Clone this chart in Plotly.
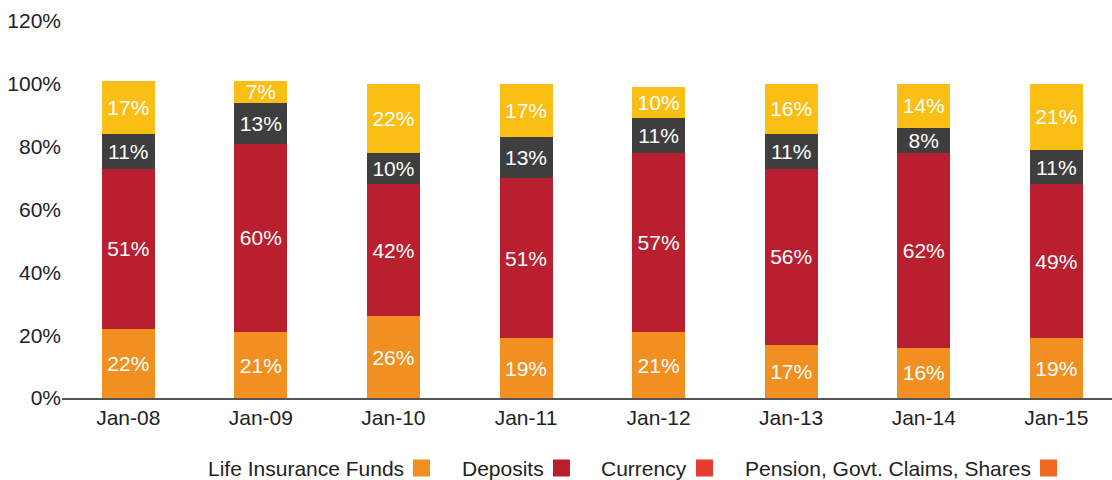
import plotly.graph_objects as go

categories = ["Jan-08", "Jan-09", "Jan-10", "Jan-11", "Jan-12", "Jan-13", "Jan-14", "Jan-15"]
life_insurance = [22, 21, 26, 19, 21, 17, 16, 19]
deposits = [51, 60, 42, 51, 57, 56, 62, 49]
currency = [11, 13, 10, 13, 11, 11, 8, 11]
pension = [17, 7, 22, 17, 10, 16, 14, 21]
y_ticks = [0, 20, 40, 60, 80, 100, 120]
y_tick_labels = ["0%", "20%", "40%", "60%", "80%", "100%", "120%"]

series = [
    ("Life Insurance Funds", life_insurance, "#F18F21"),
    ("Deposits", deposits, "#B91F2E"),
    ("Currency", currency, "#3E3E3E"),
    ("Pension, Govt. Claims, Shares", pension, "#FBBE14"),
]
legend_colors = ["#F18F21", "#B91F2E", "#E63B2F", "#EC6A20"]

FONT = "Liberation Sans, Arial, Helvetica, sans-serif"

fig = go.Figure()
for name, vals, col in series:
    fig.add_trace(go.Bar(
        x=categories, y=vals, name=name,
        marker=dict(color=col, line=dict(width=0)),
        width=0.4,
        text=[f"{v}%" for v in vals],
        textposition="inside", insidetextanchor="middle",
        constraintext="none",
        textfont=dict(color="white", size=21, family=FONT),
        showlegend=False,
    ))

W, H = 1112, 480
ml, mr, mt, mb = 62, 0, 21, 82
pw = W - ml - mr
ph = H - mt - mb

def px_x(px):
    return (px - ml) / pw

def px_y(py):
    return (H - mb - py) / ph

legend_items = [
    ("Life Insurance Funds", 406, 413),
    ("Deposits", 546, 553),
    ("Currency", 689, 696),
    ("Pension, Govt. Claims, Shares", 1033, 1040),
]
annotations = []
shapes = []
ly = 468
for (label, tx, sx), col in zip(legend_items, legend_colors):
    annotations.append(dict(
        x=px_x(tx), y=px_y(ly), xref="paper", yref="paper",
        text=label, showarrow=False, xanchor="right", yanchor="middle",
        font=dict(size=21, color="#222222", family=FONT),
    ))
    shapes.append(dict(
        type="rect", xref="paper", yref="paper",
        x0=px_x(sx), x1=px_x(sx + 17), y0=px_y(ly + 8.5), y1=px_y(ly - 8.5),
        fillcolor=col, line=dict(width=0),
    ))

fig.update_layout(
    barmode="stack",
    width=W, height=H,
    margin=dict(l=ml, r=mr, t=mt, b=mb),
    plot_bgcolor="white", paper_bgcolor="white",
    font=dict(family=FONT, size=21, color="#222222"),
    xaxis=dict(
        range=[-0.5, 7.42], showgrid=False, zeroline=False,
        showline=True, linecolor="#555555", linewidth=2,
        ticks="", tickfont=dict(size=21, color="#222222"),
    ),
    yaxis=dict(
        range=[0, 120], showgrid=False, zeroline=False, showline=False,
        tickvals=y_ticks, ticktext=y_tick_labels, ticks="",
        tickfont=dict(size=21, color="#222222"), automargin=False,
    ),
    annotations=annotations,
    shapes=shapes,
)

fig.write_html(
    "out.html",
    config={"displayModeBar": False},
    post_script="document.body.style.margin='0px';document.body.style.overflow='hidden';",
)
